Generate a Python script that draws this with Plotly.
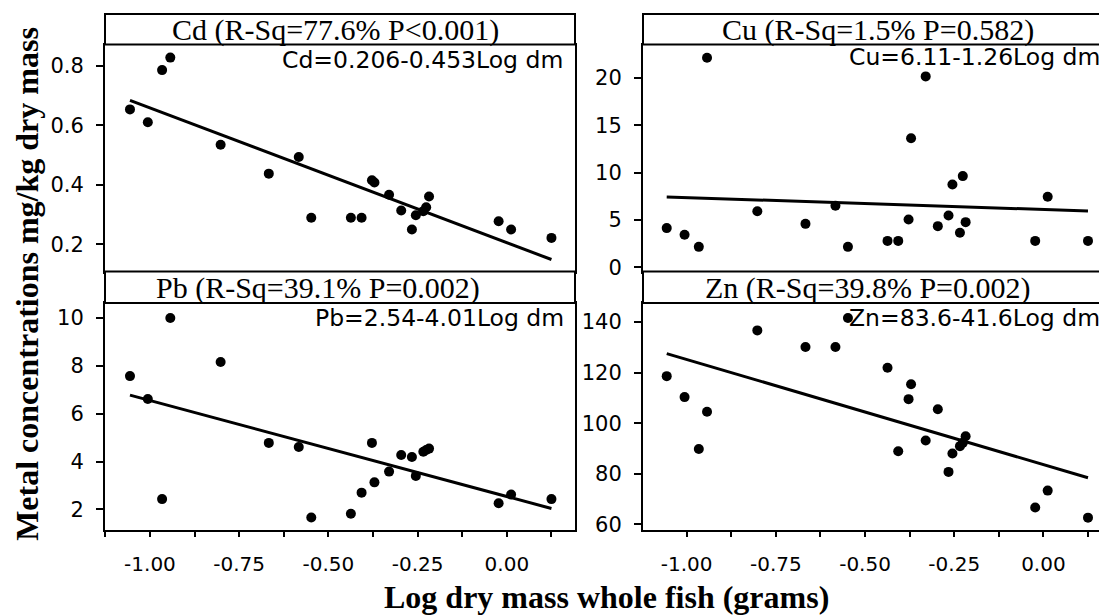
import plotly.graph_objects as go

# ---------------- data ----------------
log_dm = [-1.056, -1.006, -0.966, -0.943, -0.802, -0.667, -0.583, -0.548, -0.437, -0.407, -0.378,
          -0.371, -0.330, -0.296, -0.266, -0.255, -0.234, -0.226, -0.218, -0.023, 0.012, 0.125]
cd = [0.654, 0.611, 0.786, 0.828, 0.535, 0.438, 0.494, 0.290, 0.290, 0.290, 0.416,
      0.408, 0.367, 0.314, 0.250, 0.298, 0.312, 0.325, 0.361, 0.278, 0.250, 0.222]
cu = [4.14, 3.44, 2.16, 22.16, 5.92, 4.59, 6.51, 2.16, 2.79, 2.79, 5.05,
      13.64, 20.18, 4.35, 5.47, 8.76, 3.65, 9.64, 4.77, 2.79, 7.45, 2.79]
pb = [7.57, 6.61, 2.43, 10.0, 8.16, 4.78, 4.61, 1.66, 1.82, 2.70, 4.78,
      3.13, 3.58, 4.27, 4.19, 3.40, 4.41, 4.48, 4.54, 2.26, 2.62, 2.43]
zn = [118.6, 110.3, 89.8, 104.5, 136.7, 130.1, 130.1, 141.6, 121.9, 88.9, 109.5,
      115.4, 93.1, 105.5, 80.7, 88.0, 90.9, 92.2, 94.8, 66.6, 73.3, 62.6]

# regression coefficients (intercept, slope)
cd_fit = (0.206, -0.453)
cu_fit = (6.11, -1.26)
pb_fit = (2.54, -4.01)
zn_fit = (83.6, -41.6)

titles = ["Cd (R-Sq=77.6% P<0.001)", "Cu (R-Sq=1.5% P=0.582)",
          "Pb (R-Sq=39.1% P=0.002)", "Zn (R-Sq=39.8% P=0.002)"]
equations = ["Cd=0.206-0.453Log dm", "Cu=6.11-1.26Log dm",
             "Pb=2.54-4.01Log dm", "Zn=83.6-41.6Log dm"]

x_tickvals = [-1.0, -0.75, -0.5, -0.25, 0.0]
x_ticktext = ["-1.00", "-0.75", "-0.50", "-0.25", "0.00"]
x_minorvals = [-1.125, -0.875, -0.625, -0.375, -0.125, 0.125]

y_ticks = [[0.2, 0.4, 0.6, 0.8], [0, 5, 10, 15, 20], [2, 4, 6, 8, 10], [60, 80, 100, 120, 140]]
y_ranges = [[0.109, 0.872], [-0.45, 23.55], [1.134, 10.62], [57.66, 147.5]]

x_label = "Log dry mass whole fish (grams)"
y_label = "Metal concentrations mg/kg dry mass"

# ---------------- layout geometry (target pixels) ----------------
W, H = 1107, 616
OFF = 8  # page body margin of the html page
def px(v):
    return (v - OFF) / W
def py(v):
    return 1 - (v - OFF) / H

panels = [
    dict(x0=105, x1=575, top=45, bot=275, strip=14, xr=[-1.126, 0.191], bottom=False, right=False,
         tcx=335.5, eqx=565, eqy=50.5),
    dict(x0=643, x1=1112.5, top=45, bot=275, strip=14, xr=[-1.1225, 0.1937], bottom=False, right=True,
         tcx=877.7, eqx=1102, eqy=47.5),
    dict(x0=105, x1=575, top=307, bot=537, strip=275, xr=[-1.126, 0.191], bottom=True, right=False,
         tcx=317.7, eqx=566, eqy=312),
    dict(x0=643, x1=1112.5, top=307, bot=537, strip=275, xr=[-1.1225, 0.1937], bottom=True, right=True,
         tcx=867.5, eqx=1102, eqy=312),
]

series = [cd, cu, pb, zn]
fits = [cd_fit, cu_fit, pb_fit, zn_fit]

fig = go.Figure()
shapes = []
annotations = []
tick_font = dict(family="DejaVu Sans", size=21, color="black")

for i, p in enumerate(panels):
    n = "" if i == 0 else str(i + 1)
    xa, ya = "x" + n, "y" + n
    fig.add_trace(go.Scatter(x=log_dm, y=series[i], mode="markers", xaxis=xa, yaxis=ya,
                             marker=dict(color="black", size=10), showlegend=False))
    a, b = fits[i]
    xl = [min(log_dm), max(log_dm)]
    fig.add_trace(go.Scatter(x=xl, y=[a + b * v for v in xl], mode="lines", xaxis=xa, yaxis=ya,
                             line=dict(color="black", width=3), showlegend=False))

    xaxis = dict(domain=[px(p["x0"]), min(1.0, px(p["x1"]))], anchor=ya, range=p["xr"],
                 showline=True, linecolor="black", linewidth=2, mirror=True,
                 showgrid=False, zeroline=False)
    if p["bottom"]:
        xaxis.update(tickmode="array", tickvals=x_tickvals, ticktext=x_ticktext,
                     ticks="outside", ticklen=5, tickwidth=1.5, tickcolor="black",
                     tickfont=dict(family="DejaVu Sans", size=20, color="black"),
                     ticklabelstandoff=10,
                     minor=dict(tickmode="array", tickvals=x_minorvals, ticks="outside",
                                ticklen=5, tickwidth=1.5, tickcolor="black"))
    else:
        xaxis.update(ticks="", showticklabels=False)
    yaxis = dict(domain=[py(p["bot"]), py(p["top"])], anchor=xa, range=y_ranges[i],
                 tickmode="array", tickvals=y_ticks[i],
                 showline=True, linecolor="black", linewidth=2, mirror=not p["right"],
                 ticks="outside", ticklen=7, tickwidth=1.5, tickcolor="black",
                 tickfont=tick_font, ticklabelstandoff=8,
                 showgrid=False, zeroline=False)
    fig.update_layout(**{"xaxis" + n: xaxis, "yaxis" + n: yaxis})

    # strip
    shapes.append(dict(type="rect", xref="paper", yref="paper",
                       x0=px(p["x0"]), x1=px(p["x1"]),
                       y0=py(p["top"]), y1=py(p["strip"]),
                       line=dict(color="black", width=2), fillcolor="white"))
    annotations.append(dict(text=titles[i], xref="paper", yref="paper",
                            x=px(p["tcx"]), y=py((p["strip"] + p["top"]) / 2 + 1),
                            xanchor="center", yanchor="middle", showarrow=False,
                            font=dict(family="Liberation Serif", size=30, color="black")))
    annotations.append(dict(text=equations[i], xref="paper", yref="paper",
                            x=px(p["eqx"]), y=py(p["eqy"] - 6),
                            xanchor="right", yanchor="top", showarrow=False,
                            font=dict(family="DejaVu Sans", size=23.5, color="black")))

annotations.append(dict(text="<b>" + x_label + "</b>", xref="paper", yref="paper",
                        x=px(606), y=py(605), xanchor="center", yanchor="middle", showarrow=False,
                        font=dict(family="Liberation Serif", size=32, color="black")))
annotations.append(dict(text="<b>" + y_label + "</b>", xref="paper", yref="paper",
                        x=px(27), y=py(287.5), xanchor="center", yanchor="middle", showarrow=False,
                        textangle=-90,
                        font=dict(family="Liberation Serif", size=32, color="black")))

fig.update_layout(width=W, height=H, margin=dict(l=0, r=0, t=0, b=0),
                  paper_bgcolor="white", plot_bgcolor="white",
                  shapes=shapes, annotations=annotations)

fig.write_html("out.html")
